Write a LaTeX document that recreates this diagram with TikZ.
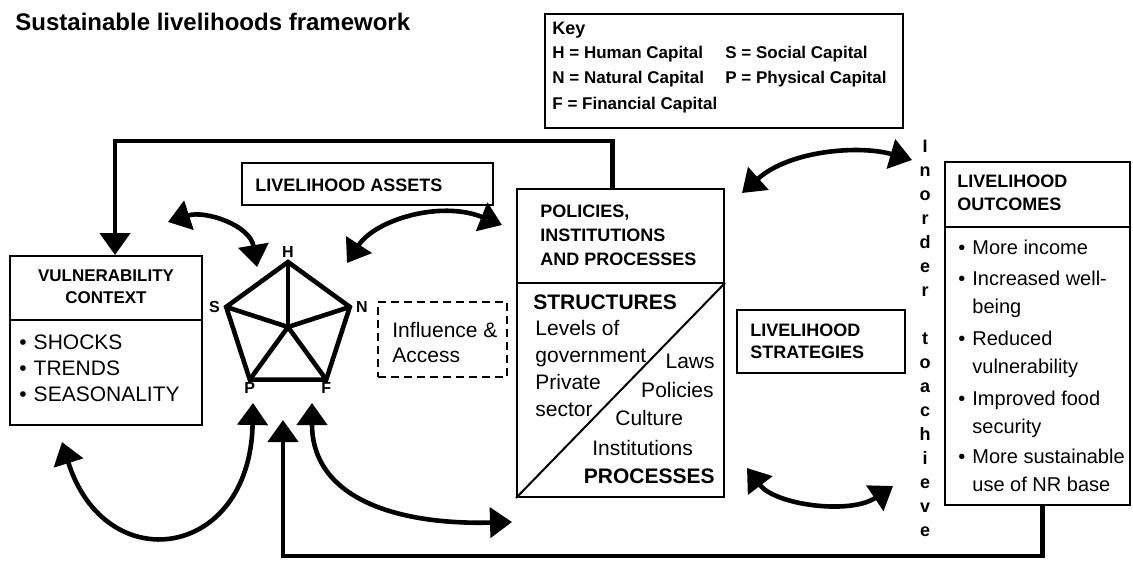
\documentclass[tikz,border=0pt]{standalone}
\usepackage{fontspec}
\setmainfont{Liberation Sans}
\usetikzlibrary{arrows.meta,positioning,calc,fit}
\newcommand{\lns}[1]{\begin{tabular}[t]{@{}l@{}}#1\end{tabular}}
\newcommand{\blt}[1]{\begin{tabular}[t]{@{}l@{\hspace{3.5pt}}l@{}}#1\end{tabular}}

\begin{document}
\begin{tikzpicture}[x=0.5pt, y=-0.5pt,
 >={Triangle[width=15pt,length=11pt]},
 box/.style={draw, line width=1pt, inner sep=0pt},
 fat/.style={line width=2.3pt},
 hd/.style={font=\bfseries\fontsize{9}{12}\selectfont, anchor=base west, inner sep=0pt},
 txt/.style={font=\fontsize{10.5}{13.5}\selectfont, anchor=base west, inner sep=0pt},
 lbl/.style={font=\bfseries\fontsize{8}{9}\selectfont, inner sep=1pt}]
\useasboundingbox (0,0) rectangle (1133,562);

\node[font=\bfseries\fontsize{12}{14}\selectfont, anchor=base west, inner sep=0pt] (title) at (15,30) {Sustainable livelihoods framework};

% key
\node[box, fit={(545,14) (903,128)}] (key) {};
\node[hd] (keyh) at (552,34) {Key};
\node[hd, font=\bfseries\fontsize{8.5}{12.75}\selectfont] (keyl) at (552,58) {\lns{H = Human Capital\\N = Natural Capital\\F = Financial Capital}};
\node[hd, font=\bfseries\fontsize{8.5}{12.75}\selectfont] (keyr) at (725,58) {\lns{S = Social Capital\\P = Physical Capital}};

% vulnerability context
\node[box, fit={(10,256) (202,425)}] (vul) {};
\draw[line width=1pt] (vul.west |- 0,320) -- (vul.east |- 0,320);
\node[hd, anchor=base, font=\bfseries\fontsize{8.5}{11}\selectfont] (vulh) at (106,281) {\begin{tabular}[t]{@{}c@{}}VULNERABILITY\\CONTEXT\end{tabular}};
\node[txt, font=\fontsize{10.5}{13}\selectfont] (vull) at (19,349) {\blt{\textbullet & SHOCKS\\ \textbullet & TRENDS\\ \textbullet & SEASONALITY}};

% assets pentagon
\node[box, fit={(242,163) (493,205)}] (assets) {};
\node[hd] (assetst) at (255,191) {LIVELIHOOD ASSETS};
\coordinate (pc) at (288,327);
\foreach \n/\a in {H/270,N/342,F/54,P/126,S/198}
  \coordinate (p\n) at ($(pc)+(\a:65)$);
\draw[fat] (pH) -- (pN) -- (pF) -- (pP) -- (pS) -- cycle;
\foreach \n in {H,N,F,P,S}
  \draw[fat] (pc) -- (p\n);
\node[lbl, above=1pt of pH] (lH) {H};
\node[lbl, left=2pt of pS] (lS) {S};
\node[lbl, right=2pt of pN] (lN) {N};
\node[lbl, below=0pt of pP] (lP) {P};
\node[lbl, below=0pt of pF] (lF) {F};

\node[box, dash pattern=on 4pt off 2.5pt, fit={(378,302) (507,377)}] (infl) {};
\node[txt, font=\fontsize{10.5}{12.5}\selectfont] (inflt) at (392,337) {\lns{Influence \&\\Access}};

% policies, institutions and processes
\node[box, fit={(517,189) (724,497)}] (pip) {};
\draw[line width=1pt] (pip.west |- 0,283) -- (pip.east |- 0,283);
\draw[line width=1pt] (pip.south west) -- (pip.east |- 0,283);
\node[hd] (piph) at (540,217) {\lns{POLICIES,\\INSTITUTIONS\\AND PROCESSES}};
\node[hd, font=\bfseries\fontsize{10.5}{12}\selectfont] (struc) at (533,309) {STRUCTURES};
\node[txt] (struct) at (535,335) {\lns{Levels of\\government\\Private\\sector}};
\node[txt, anchor=base east] (laws) at (715,368) {Laws};
\node[txt, anchor=base east] (pols) at (714,397) {Policies};
\node[txt] (cult) at (615,425) {Culture};
\node[txt] (inst) at (592,455) {Institutions};
\node[hd, anchor=base east, font=\bfseries\fontsize{10.5}{12}\selectfont] (proc) at (715,483) {PROCESSES};

% strategies
\node[box, fit={(737,310) (905,373)}] (strat) {};
\node[hd, font=\bfseries\fontsize{9}{11}\selectfont] (stratt) at (750,336) {\lns{LIVELIHOOD\\STRATEGIES}};

\node[font=\bfseries\fontsize{9}{12}\selectfont, anchor=base, inner sep=0pt] (goal) at (925,152)
  {\begin{tabular}[t]{@{}c@{}}I\\n\\o\\r\\d\\e\\r\\[12pt] t\\o\\a\\c\\h\\i\\e\\v\\e\end{tabular}};

% outcomes
\node[box, fit={(945,162) (1130,505)}] (outc) {};
\draw[line width=1pt] (outc.west |- 0,227) -- (outc.east |- 0,227);
\node[hd, font=\bfseries\fontsize{9}{11.5}\selectfont] (outh) at (957,187) {\lns{LIVELIHOOD\\OUTCOMES}};
\node[txt, font=\fontsize{10}{14}\selectfont] (o1) at (958,254) {\blt{\textbullet & More income}};
\node[txt, font=\fontsize{10}{14}\selectfont] (o2) at (958,285) {\blt{\textbullet & Increased well-\\ & being}};
\node[txt, font=\fontsize{10}{14}\selectfont] (o3) at (958,345) {\blt{\textbullet & Reduced\\ & vulnerability}};
\node[txt, font=\fontsize{10}{14}\selectfont] (o4) at (958,405) {\blt{\textbullet & Improved food\\ & security}};
\node[txt, font=\fontsize{10}{14}\selectfont] (o5) at (958,463) {\blt{\textbullet & More sustainable\\ & use of NR base}};

% loose ends of the curved arrows
\coordinate (vh1) at (168,222); \coordinate (vh2) at (257,267);
\coordinate (np1) at (347,263); \coordinate (np2) at (502,225);
\coordinate (vp1) at (62,442);  \coordinate (vp2) at (253,403);
\coordinate (fp1) at (312,403); \coordinate (fp2) at (512,522);
\coordinate (so1) at (747,468); \coordinate (so2) at (893,486);
\coordinate (po1) at (742,193); \coordinate (po2) at (912,160);
\coordinate (ret) at (283,420);

\draw[fat,<->] (vh1) .. controls (205,210) and (250,225) .. (vh2);
\draw[fat,<->] (np1) .. controls (375,220) and (440,200) .. (np2);
\draw[fat,<->] (vp1) .. controls (105,580) and (250,560) .. (vp2);
\draw[fat,<->] (fp1) .. controls (312,500) and (400,525) .. (fp2);
\draw[fat,<->] (so1) .. controls (775,505) and (850,515) .. (so2);
\draw[fat,<->] (po1) .. controls (790,150) and (860,145) .. (po2);

\draw[fat,->] ($(pip.north)+(-8,0)$) -- ++(0,-47) -| ($(vul.north)+(9,0)$);
\draw[fat,->] ($(outc.south)+(5,0)$) -- ++(0,50) -| (ret);
\end{tikzpicture}
\end{document}
